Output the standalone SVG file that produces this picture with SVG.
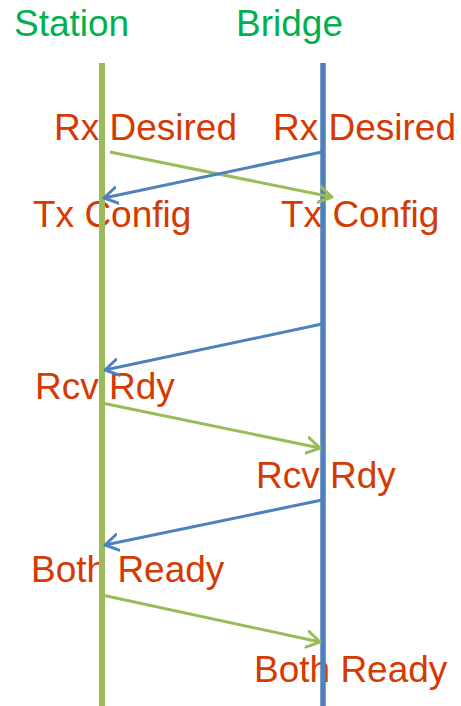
<svg xmlns="http://www.w3.org/2000/svg" width="461" height="706" viewBox="0 0 461 706">
<style>
.title{font-family:"Liberation Sans",Arial,sans-serif;font-size:37px;fill:#00B050}
.lbl{font-family:"Liberation Sans",Arial,sans-serif;font-size:37px;fill:#D43A02}
.g{stroke:#9BBB59;stroke-width:3;fill:none}
.b{stroke:#4F81BD;stroke-width:3;fill:none}
</style>
<defs>
<marker id="ag" markerUnits="userSpaceOnUse" markerWidth="20" markerHeight="20" viewBox="0 0 20 20" refX="14" refY="10" orient="auto">
<path d="M1,2 L14,10 L1,18" fill="none" stroke="#9BBB59" stroke-width="3" stroke-linecap="round" stroke-linejoin="round"/>
</marker>
<marker id="ab" markerUnits="userSpaceOnUse" markerWidth="20" markerHeight="20" viewBox="0 0 20 20" refX="14" refY="10" orient="auto">
<path d="M1,2 L14,10 L1,18" fill="none" stroke="#4F81BD" stroke-width="3" stroke-linecap="round" stroke-linejoin="round"/>
</marker>
</defs>
<g id="station">
<text class="title" x="14" y="36">Station</text>
</g>
<g id="bridge">
<text class="title" x="236" y="36">Bridge</text>
</g>
<g id="labels">
<text class="lbl" x="54" y="140">Rx Desired</text>
<text class="lbl" x="273" y="140">Rx Desired</text>
<text class="lbl" x="33" y="227">Tx Config</text>
<text class="lbl" x="281" y="227">Tx Config</text>
<text class="lbl" x="35" y="399">Rcv Rdy</text>
<text class="lbl" x="256" y="488">Rcv Rdy</text>
<text class="lbl" x="31" y="582">Both Ready</text>
<text class="lbl" x="254" y="682">Both Ready</text>
</g>
<g id="lifelines">
<line x1="102" y1="63" x2="102" y2="706" stroke="#9BBB59" stroke-width="6"/>
<line x1="323" y1="63" x2="323" y2="706" stroke="#4F81BD" stroke-width="5.5"/>
</g>
<g id="connectors">
<line class="g" x1="110" y1="152" x2="332" y2="197" marker-end="url(#ag)"/>
<line class="b" x1="322" y1="152" x2="104" y2="198" marker-end="url(#ab)"/>
<line class="b" x1="322" y1="324" x2="105" y2="370" marker-end="url(#ab)"/>
<line class="g" x1="102" y1="403" x2="320" y2="448" marker-end="url(#ag)"/>
<line class="b" x1="322" y1="500" x2="105" y2="545" marker-end="url(#ab)"/>
<line class="g" x1="102" y1="595" x2="320" y2="642" marker-end="url(#ag)"/>
</g>
</svg>
